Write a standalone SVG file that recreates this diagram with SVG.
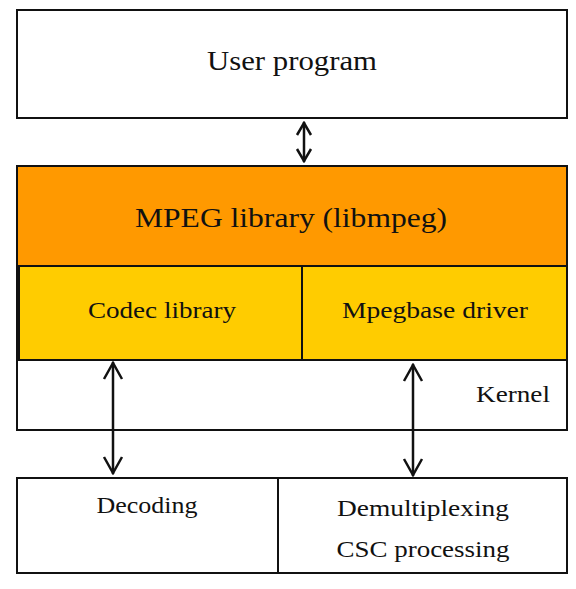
<svg xmlns="http://www.w3.org/2000/svg" width="576" height="589" viewBox="0 0 576 589">
<style>
.box{fill:#fff;stroke:#111;stroke-width:2}
.orange{fill:#FF9900;stroke:#111;stroke-width:2}
.yellow{fill:#FFCC00;stroke:#111;stroke-width:2}
.t{font-family:"Liberation Serif","DejaVu Serif",serif;fill:#111;text-anchor:middle}
.big{font-size:28px}
.sm{font-size:24px}
.conn{stroke:#111;stroke-width:2.5;fill:none}
.c1{marker-start:url(#ah1);marker-end:url(#ah1)}
.c2{marker-start:url(#ah2);marker-end:url(#ah2)}
</style>
<defs>
<marker id="ah1" markerUnits="userSpaceOnUse" viewBox="0 0 16 18" refX="15" refY="9" markerWidth="16" markerHeight="18" orient="auto-start-reverse">
<path d="M2,2 L14,9 L2,16" fill="none" stroke="#111" stroke-width="2.5"/>
</marker>
<marker id="ah2" markerUnits="userSpaceOnUse" viewBox="0 0 20 22" refX="19" refY="11" markerWidth="20" markerHeight="22" orient="auto-start-reverse">
<path d="M2,2 L18,11 L2,20" fill="none" stroke="#111" stroke-width="2.5"/>
</marker>
</defs>
<g id="user-program">
<rect class="box" x="17" y="10" width="550" height="108"/>
<text class="t big" x="292" y="70" textLength="170" lengthAdjust="spacingAndGlyphs">User program</text>
</g>
<g id="kernel">
<rect class="box" x="17" y="166" width="550" height="264"/>
<text class="t sm" x="513" y="402" textLength="74" lengthAdjust="spacingAndGlyphs">Kernel</text>
</g>
<g id="mpeg-library">
<rect class="orange" x="17" y="166" width="550" height="100"/>
<text class="t big" x="291" y="227" textLength="312" lengthAdjust="spacingAndGlyphs">MPEG library (libmpeg)</text>
</g>
<g id="codec-library">
<rect class="yellow" x="19" y="266" width="283" height="94"/>
<text class="t sm" x="162" y="318" textLength="148" lengthAdjust="spacingAndGlyphs">Codec library</text>
</g>
<g id="mpegbase-driver">
<rect class="yellow" x="302" y="266" width="265" height="94"/>
<text class="t sm" x="435" y="318" textLength="186" lengthAdjust="spacingAndGlyphs">Mpegbase driver</text>
</g>
<g id="decoding">
<rect class="box" x="17" y="478" width="261" height="95"/>
<text class="t sm" x="147" y="513" textLength="101" lengthAdjust="spacingAndGlyphs">Decoding</text>
</g>
<g id="demux">
<rect class="box" x="278" y="478" width="289" height="95"/>
<text class="t sm" x="423" y="516" textLength="172" lengthAdjust="spacingAndGlyphs">Demultiplexing</text>
<text class="t sm" x="423" y="557" textLength="173" lengthAdjust="spacingAndGlyphs">CSC processing</text>
</g>
<g id="connectors">
<line class="conn c1" x1="304" y1="122" x2="304" y2="162"/>
<line class="conn c2" x1="113" y1="362" x2="113" y2="474"/>
<line class="conn c2" x1="413" y1="364" x2="413" y2="476"/>
</g>
</svg>
